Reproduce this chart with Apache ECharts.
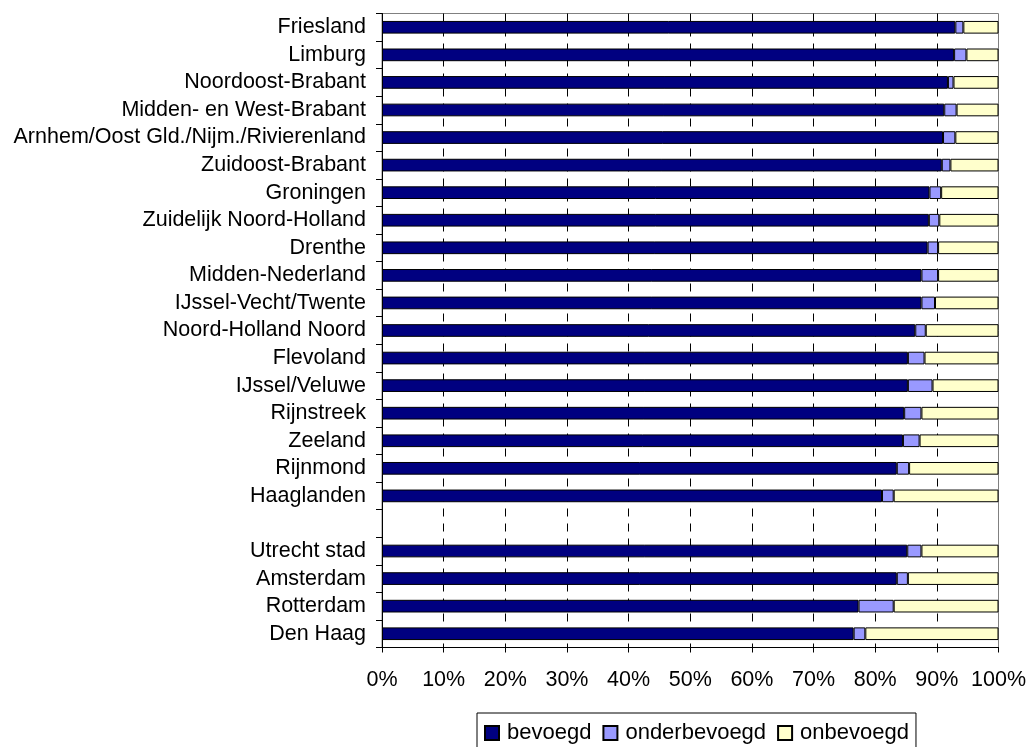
<!DOCTYPE html>
<html>
<head>
<meta charset="utf-8">
<script src="https://cdn.jsdelivr.net/npm/echarts@6/dist/echarts.min.js"></script>
<style>
    html, body { margin: 0; padding: 0; background: #fff; }
    #chart { width: 1029px; height: 747px; }
</style>
</head>
<body>
<div id="chart"></div>
<script>
// regio's, van boven naar beneden (lege regel tussen de regio's en de grote steden)
var regions = [
    'Friesland', 'Limburg', 'Noordoost-Brabant', 'Midden- en West-Brabant',
    'Arnhem/Oost Gld./Nijm./Rivierenland', 'Zuidoost-Brabant', 'Groningen',
    'Zuidelijk Noord-Holland', 'Drenthe', 'Midden-Nederland', 'IJssel-Vecht/Twente',
    'Noord-Holland Noord', 'Flevoland', 'IJssel/Veluwe', 'Rijnstreek', 'Zeeland',
    'Rijnmond', 'Haaglanden', '', 'Utrecht stad', 'Amsterdam', 'Rotterdam', 'Den Haag'
];

// percentages per regio
var bevoegd = [
    93.0, 92.8, 91.8, 91.2, 91.0, 90.8, 88.8, 88.7, 88.5, 87.5, 87.5,
    86.5, 85.3, 85.3, 84.7, 84.5, 83.5, 81.1, '-', 85.2, 83.5, 77.3, 76.5
];
var onderbevoegd = [
    1.3, 2.0, 0.9, 2.0, 2.0, 1.4, 1.9, 1.7, 1.7, 2.7, 2.2,
    1.7, 2.7, 4.0, 2.8, 2.7, 2.0, 1.9, '-', 2.3, 1.8, 5.7, 1.9
];
var onbevoegd = [
    5.7, 5.2, 7.3, 6.8, 7.0, 7.8, 9.3, 9.6, 9.8, 9.8, 10.3,
    11.8, 12.0, 10.7, 12.5, 12.8, 14.5, 17.0, '-', 12.5, 14.7, 17.0, 21.6
];

var ticks = [0, 10, 20, 30, 40, 50, 60, 70, 80, 90, 100];

var font = 'Liberation Sans, Arial, sans-serif';

function barSeries(name, data, color){
    return {
        name: name,
        type: 'bar',
        stack: 'totaal',
        barWidth: '46%',
        data: data,
        itemStyle: {
            color: color,
            borderColor: '#000',
            borderWidth: 1
        },
        emphasis: { disabled: true }
    };
}

var chart = echarts.init(document.getElementById('chart'), null, { renderer: 'canvas' });

chart.setOption({
    animation: false,
    textStyle: { fontFamily: font, color: '#000' },
    grid: {
        left: 382,
        right: 30,
        top: 13.5,
        bottom: 99.5,
        show: true,
        borderColor: '#808080',
        borderWidth: 1
    },
    legend: {
        left: 477,
        top: 713,
        padding: [9, 7, 9, 7],
        itemGap: 11,
        itemWidth: 14,
        itemHeight: 14,
        icon: 'rect',
        borderColor: '#000',
        borderWidth: 1,
        textStyle: { fontSize: 22, fontFamily: font, color: '#000', padding: [0, 0, 0, 3] },
        data: ['bevoegd', 'onderbevoegd', 'onbevoegd']
    },
    xAxis: {
        type: 'value',
        min: ticks[0],
        max: ticks[ticks.length - 1],
        interval: 10,
        axisLine: { show: true, lineStyle: { color: '#000', width: 1 } },
        axisTick: { show: true, length: 5, lineStyle: { color: '#000' } },
        axisLabel: {
            formatter: '{value}%',
            fontSize: 21.5,
            fontFamily: font,
            color: '#000',
            margin: 22
        },
        splitLine: {
            show: true,
            showMinLine: false,
            showMaxLine: false,
            lineStyle: { color: '#000', width: 1, type: [8, 7] }
        }
    },
    yAxis: {
        type: 'category',
        inverse: true,
        data: regions,
        axisLine: { show: true, lineStyle: { color: '#000', width: 1 } },
        axisTick: { show: true, length: 6, lineStyle: { color: '#000' } },
        axisLabel: {
            fontSize: 21.5,
            fontFamily: font,
            color: '#000',
            margin: 16,
            interval: 0
        },
        splitLine: { show: false }
    },
    series: [
        barSeries('bevoegd', bevoegd, '#000080'),
        barSeries('onderbevoegd', onderbevoegd, '#9999FF'),
        barSeries('onbevoegd', onbevoegd, '#FFFFCC')
    ]
});
</script>
</body>
</html>
